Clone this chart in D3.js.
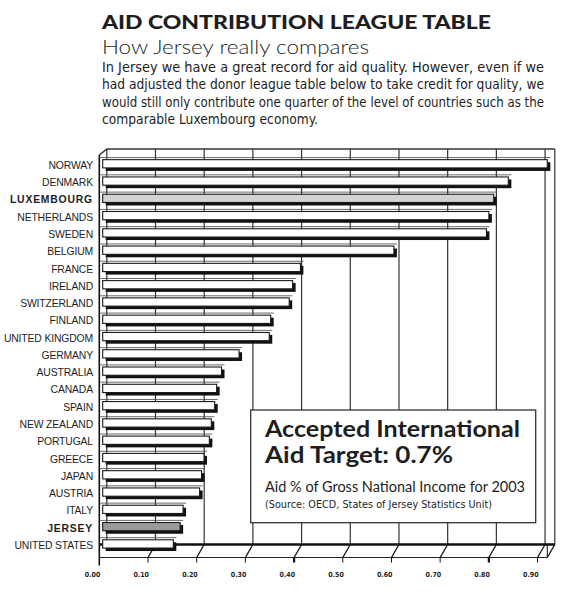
<!DOCTYPE html>
<html>
<head>
<meta charset="utf-8">
<script src="https://cdn.jsdelivr.net/npm/d3@7"></script>
<style>
  body { margin: 0; background: #fff; }
  svg { display: block; }
  text { fill: #1e1e1e; }
</style>
</head>
<body>
<svg id="chart" width="580" height="601"></svg>
<script>
// Aid % of GNI, 2003
var countries = ["NORWAY", "DENMARK", "LUXEMBOURG", "NETHERLANDS", "SWEDEN", "BELGIUM",
    "FRANCE", "IRELAND", "SWITZERLAND", "FINLAND", "UNITED KINGDOM", "GERMANY",
    "AUSTRALIA", "CANADA", "SPAIN", "NEW ZEALAND", "PORTUGAL", "GREECE", "JAPAN",
    "AUSTRIA", "ITALY", "JERSEY", "UNITED STATES"];
var values = [0.92, 0.84, 0.81, 0.80, 0.795, 0.605,
    0.413, 0.397, 0.39, 0.352, 0.349, 0.287,
    0.251, 0.241, 0.237, 0.23, 0.226, 0.215, 0.21,
    0.206, 0.172, 0.166, 0.152];
var highlighted = ["LUXEMBOURG", "JERSEY"];
var tickValues = [0, 0.1, 0.2, 0.3, 0.4, 0.5, 0.6, 0.7, 0.8, 0.9];
var tickLabels = ["0.00", "0.10", "0.20", "0.30", "0.40", "0.50", "0.60", "0.70", "0.80", "0.90"];
var bodyLines = [
    "In Jersey we have a great record for aid quality. However, even if we",
    "had adjusted the donor league table below to take credit for quality, we",
    "would still only contribute one quarter of the level of countries such as the",
    "comparable Luxembourg economy."
];

(function () {
    "use strict";

    var svg = d3.select("#chart");
    var depthX = 7.5,   // shift of the back wall
        depthY = -13,
        wallTop = 149,
        floorFront = 557.5,
        floorBack = floorFront + depthY,
        axisMax = 0.92;

    var x = d3.scaleLinear().domain([0, axisMax]).range([99.3, 547.3]);
    var y = d3.scaleBand().domain(countries).range([156.4, 553.8])
        .paddingInner(0.32).paddingOuter(0.16);

    // heading
    svg.append("text").attr("x", 102).attr("y", 28.5)
        .attr("font-family", "Lato, 'DejaVu Sans', sans-serif")
        .attr("font-weight", 900).attr("font-size", 19)
        .attr("textLength", 389).attr("lengthAdjust", "spacingAndGlyphs")
        .text("AID CONTRIBUTION LEAGUE TABLE");

    svg.append("text").attr("x", 102).attr("y", 54)
        .attr("font-family", "Lato, 'DejaVu Sans', sans-serif")
        .attr("font-weight", 300).attr("font-size", 20)
        .attr("textLength", 267).attr("lengthAdjust", "spacingAndGlyphs")
        .text("How Jersey really compares");

    svg.selectAll("text.body")
        .data(bodyLines)
        .enter().append("text")
        .classed("body", true)
        .attr("x", 102)
        .attr("y", function (d, i) { return 71.7 + i * 17.4; })
        .attr("font-family", "'Liberation Sans Narrow', 'DejaVu Sans Condensed', sans-serif")
        .attr("font-size", 14)
        .attr("textLength", function (d, i) { return i < 3 ? 442 : 216; })
        .attr("lengthAdjust", "spacingAndGlyphs")
        .text(function (d) { return d; });

    var g = svg.append("g");

    // back wall gridlines
    g.selectAll("line.grid")
        .data(tickValues.concat([axisMax]))
        .enter().append("line")
        .classed("grid", true)
        .attr("x1", function (d) { return x(d) + depthX; })
        .attr("x2", function (d) { return x(d) + depthX; })
        .attr("y1", wallTop)
        .attr("y2", floorBack)
        .attr("stroke", "#333")
        .attr("stroke-width", 1.2);

    // top edge of the wall
    g.append("line")
        .attr("x1", x(0) + depthX).attr("x2", x(axisMax) + depthX)
        .attr("y1", wallTop).attr("y2", wallTop)
        .attr("stroke", "#333").attr("stroke-width", 1.6);
    g.append("line")
        .attr("x1", x(0)).attr("y1", wallTop + 6)
        .attr("x2", x(0) + depthX).attr("y2", wallTop)
        .attr("stroke", "#222").attr("stroke-width", 1.2);

    // floor
    g.append("line")
        .attr("x1", x(0)).attr("x2", x(axisMax) + depthX)
        .attr("y1", floorBack).attr("y2", floorBack)
        .attr("stroke", "#111").attr("stroke-width", 2.4);
    g.append("line")
        .attr("x1", x(0)).attr("x2", x(axisMax))
        .attr("y1", floorFront).attr("y2", floorFront)
        .attr("stroke", "#222").attr("stroke-width", 1.1);
    g.selectAll("line.slash")
        .data(tickValues.slice(1).concat([axisMax]))
        .enter().append("line")
        .classed("slash", true)
        .attr("x1", function (d) { return x(d); })
        .attr("y1", floorFront)
        .attr("x2", function (d) { return x(d) + depthX; })
        .attr("y2", floorBack)
        .attr("stroke", "#111")
        .attr("stroke-width", 1.3);
    g.append("line")
        .attr("x1", x(axisMax)).attr("x2", x(axisMax))
        .attr("y1", floorBack).attr("y2", floorFront)
        .attr("stroke", "#222").attr("stroke-width", 1.1);

    // small ticks under the front floor edge
    g.selectAll("line.tick")
        .data(tickValues.slice(1))
        .enter().append("line")
        .classed("tick", true)
        .attr("x1", function (d) { return x(d); })
        .attr("x2", function (d) { return x(d); })
        .attr("y1", floorFront)
        .attr("y2", floorFront + 5)
        .attr("stroke", "#111")
        .attr("stroke-width", function (d, i) { return (i === 3 || i === 7) ? 2.2 : 1; });

    // left edge
    g.append("line")
        .attr("x1", x(0)).attr("x2", x(0))
        .attr("y1", wallTop + 6).attr("y2", floorFront + 8)
        .attr("stroke", "#111").attr("stroke-width", 1.6);

    // tick labels
    g.selectAll("text.tickLabel")
        .data(tickValues)
        .enter().append("text")
        .classed("tickLabel", true)
        .attr("x", function (d) { return x(d) + 1; })
        .attr("y", 577)
        .attr("text-anchor", "end")
        .attr("font-family", "'DejaVu Sans Condensed', sans-serif")
        .attr("font-size", 7)
        .attr("font-weight", 700)
        .text(function (d, i) { return tickLabels[i]; });

    // note box
    var note = g.append("g");
    note.append("rect")
        .attr("x", 250.7).attr("y", 410)
        .attr("width", 285).attr("height", 112.7)
        .attr("fill", "#fff").attr("stroke", "#333").attr("stroke-width", 1.3);
    note.append("text").attr("x", 265).attr("y", 436.7)
        .attr("font-family", "Lato, 'DejaVu Sans', sans-serif")
        .attr("font-weight", 700).attr("font-size", 22)
        .attr("textLength", 255).attr("lengthAdjust", "spacingAndGlyphs")
        .text("Accepted International");
    note.append("text").attr("x", 265).attr("y", 463.3)
        .attr("font-family", "Lato, 'DejaVu Sans', sans-serif")
        .attr("font-weight", 700).attr("font-size", 22)
        .attr("textLength", 188).attr("lengthAdjust", "spacingAndGlyphs")
        .text("Aid Target: 0.7%");
    note.append("text").attr("x", 265).attr("y", 491.7)
        .attr("font-family", "Lato, 'DejaVu Sans', sans-serif")
        .attr("font-weight", 400).attr("font-size", 14.5)
        .attr("textLength", 260).attr("lengthAdjust", "spacingAndGlyphs")
        .text("Aid % of Gross National Income for 2003");
    note.append("text").attr("x", 265).attr("y", 508.3)
        .attr("font-family", "'Liberation Sans Narrow', 'DejaVu Sans Condensed', sans-serif")
        .attr("font-size", 10)
        .attr("textLength", 227).attr("lengthAdjust", "spacingAndGlyphs")
        .text("(Source: OECD, States of Jersey Statistics Unit)");

    // bars
    var shadow = 3,
        barStart = x(0) + 3.4,
        bw = y.bandwidth();

    var bars = g.selectAll("g.bar")
        .data(countries)
        .enter().append("g")
        .classed("bar", true)
        .attr("transform", function (d) { return "translate(0," + y(d) + ")"; });

    // thin back edge of the bar top
    bars.append("line")
        .attr("x1", x(0) + 1)
        .attr("x2", function (d, i) { return x(values[i]) + shadow; })
        .attr("y1", -1.6).attr("y2", -1.6)
        .attr("stroke", "#444").attr("stroke-width", 0.8);

    bars.append("rect")
        .attr("x", barStart + shadow)
        .attr("y", shadow)
        .attr("width", function (d, i) { return x(values[i]) - barStart; })
        .attr("height", bw - shadow)
        .attr("fill", "#111");

    bars.append("rect")
        .attr("x", barStart)
        .attr("y", 0.5)
        .attr("width", function (d, i) { return x(values[i]) - barStart; })
        .attr("height", bw - shadow - 0.5)
        .attr("fill", function (d) {
            if (d === "LUXEMBOURG") { return "#d2d2d2"; }
            if (d === "JERSEY") { return "#9a9a9a"; }
            return "#fff";
        })
        .attr("stroke", "#1a1a1a")
        .attr("stroke-width", 1.1);

    // country labels
    g.selectAll("text.country")
        .data(countries)
        .enter().append("text")
        .classed("country", true)
        .attr("x", 93)
        .attr("y", function (d) { return y(d) + bw / 2 + 3.8; })
        .attr("text-anchor", "end")
        .attr("font-family", "'Liberation Sans', Arial, sans-serif")
        .attr("font-size", 10.4)
        .attr("font-weight", function (d) { return highlighted.indexOf(d) >= 0 ? 700 : 400; })
        .attr("letter-spacing", function (d) { return highlighted.indexOf(d) >= 0 ? 0.8 : -0.15; })
        .attr("fill", "#111")
        .text(function (d) { return d; });
}());
</script>
</body>
</html>
